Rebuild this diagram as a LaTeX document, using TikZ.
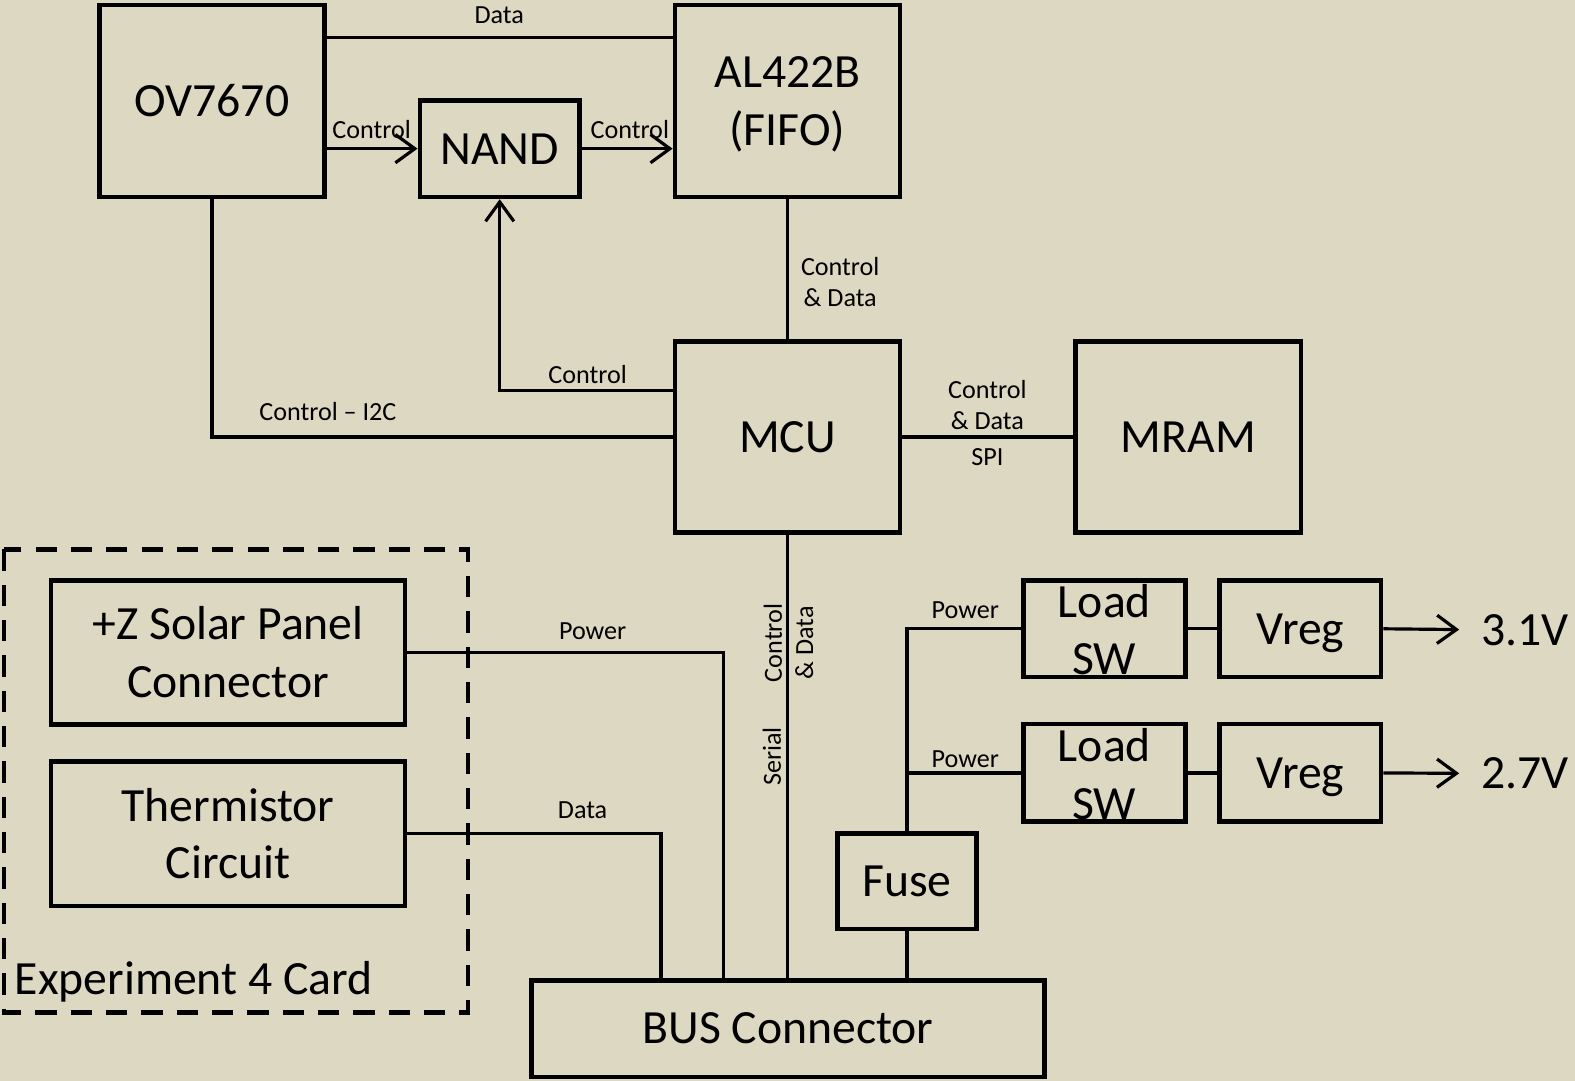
\documentclass[tikz,border=0pt]{standalone}
\usepackage{fontspec}
\setmainfont{Carlito}
\usetikzlibrary{arrows.meta}
\definecolor{bgcol}{RGB}{221,216,194}
\newcommand\BigTxt{\fontsize{13.5}{16.3}\selectfont}
\newcommand\SmallTxt{\fontsize{7.4}{8.8}\selectfont}
\begin{document}
\begin{tikzpicture}[x=0.01cm,y=-0.01cm,
  box/.style={draw, line width=1.3pt, inner sep=0pt, align=center, font=\BigTxt},
  capbox/.style={box, text height=8.7pt, text depth=0pt},
  bigtext/.style={inner sep=0pt, align=center, font=\BigTxt},
  lbl/.style={inner sep=0pt, font=\SmallTxt},
  wire/.style={line width=0.9pt},
  arr/.style={wire, -{Straight Barb[length=5.5pt,width=8pt,line width=0.9pt]}},
  dashbox/.style={line width=1.3pt, dash pattern=on 6pt off 4pt}]
\fill[bgcol] (0,0) rectangle (1568,1076);
\useasboundingbox (0,0) rectangle (1568,1076);

% boxes
\node[capbox, minimum width=2.24cm, minimum height=1.91cm] (ov) at (211,100.5) {OV7670};
\node[capbox, minimum width=1.59cm, minimum height=0.96cm] (nand) at (497.5,148) {NAND};
\node[box, minimum width=2.24cm, minimum height=1.91cm] (al) at (784,100.5) {};
\node[bigtext] (alt) at (784,104) {AL422B\\(FIFO)};
\node[capbox, minimum width=2.24cm, minimum height=1.90cm] (mcu) at (784,435) {MCU};
\node[capbox, minimum width=2.24cm, minimum height=1.90cm] (mram) at (1183,435) {MRAM};
\node[box, minimum width=3.52cm, minimum height=1.43cm] (solar) at (227,649.5) {+Z Solar Panel\\Connector};
\node[box, minimum width=3.52cm, minimum height=1.44cm] (therm) at (227,830) {Thermistor\\Circuit};
\node[box, minimum width=1.61cm, minimum height=0.96cm] (lsw1) at (1099.5,626) {};
\node[bigtext] (lsw1t) at (1099.5,627) {Load\\SW};
\node[capbox, minimum width=1.61cm, minimum height=0.96cm] (vreg1) at (1294.5,626) {Vreg};
\node[box, minimum width=1.61cm, minimum height=0.97cm] (lsw2) at (1099.5,769.5) {};
\node[bigtext] (lsw2t) at (1099.5,770.5) {Load\\SW};
\node[capbox, minimum width=1.61cm, minimum height=0.97cm] (vreg2) at (1294.5,769.5) {Vreg};
\node[capbox, minimum width=1.38cm, minimum height=0.95cm] (fuse) at (903,877.5) {Fuse};
\node[capbox, minimum width=5.11cm, minimum height=0.96cm] (bus) at (784.5,1024) {BUS Connector};
\node[bigtext, text height=8.7pt, text depth=0pt] (v31) at (1518,627) {3.1V};
\node[bigtext, text height=8.7pt, text depth=0pt] (v27) at (1518,770) {2.7V};

% experiment card
\draw[dashbox] (4,547) rectangle (466,1008);
\node[bigtext, anchor=base west] (exp) at (14,990) {Experiment 4 Card};

% coordinates on the bus connector
\path (bus.north) ++(-64.5,0) coordinate (busP);
\path (bus.north) ++(-126.5,0) coordinate (busD);

% connectors
\draw[wire] (ov.east |- 0,37) -- (al.west |- 0,37);
\draw[arr] (ov.east |- nand) -- (nand.west);
\draw[arr] (nand.east) -- (al.west |- nand);
\draw[wire] (al.south) -- (mcu.north);
\draw[arr] (mcu.west |- 0,389) -| (nand.south);
\draw[wire] (ov.south) |- (mcu.west);
\draw[wire] (mcu.east) -- (mram.west);
\draw[wire] (mcu.south) -- (mcu.south |- bus.north);
\draw[wire] (solar.east) -| (busP);
\draw[wire] (therm.east) -| (busD);
\draw[wire] (fuse.south) -- (fuse.south |- bus.north);
\draw[wire] (fuse.north) |- (lsw1.west);
\draw[wire] (fuse.north |- lsw2.west) -- (lsw2.west);
\draw[wire] (lsw1.east) -- (vreg1.west);
\draw[wire] (lsw2.east) -- (vreg2.west);
\draw[arr, shorten >=6pt] (vreg1.east) -- (v31.west);
\draw[arr, shorten >=6pt] (vreg2.east) -- (v27.west);

% labels
\node[lbl, anchor=base] (t1) at (497,23) {Data};
\node[lbl, anchor=base] (t2) at (370,138) {Control};
\node[lbl, anchor=base] (t3) at (627,138) {Control};
\node[lbl, align=center] (t4) at (836.5,281) {Control\\\& Data};
\node[lbl, anchor=base] (t5) at (585,382) {Control};
\node[lbl, anchor=base] (t6) at (326.5,419) {Control – I2C};
\node[lbl, anchor=base] (t7) at (983,397) {Control};
\node[lbl, anchor=base] (t7b) at (983,428) {\& Data};
\node[lbl, anchor=base] (t8) at (983,463) {SPI};
\node[lbl, align=center, rotate=90] (t9) at (785,640) {Control\\\& Data};
\node[lbl, rotate=90] (t10) at (768.5,753) {Serial};
\node[lbl, anchor=base] (t11) at (590,637) {Power};
\node[lbl, anchor=base] (t12) at (580,815) {Data};
\node[lbl, anchor=base] (t13) at (961,616) {Power};
\node[lbl, anchor=base] (t14) at (961,764) {Power};
\end{tikzpicture}
\end{document}
